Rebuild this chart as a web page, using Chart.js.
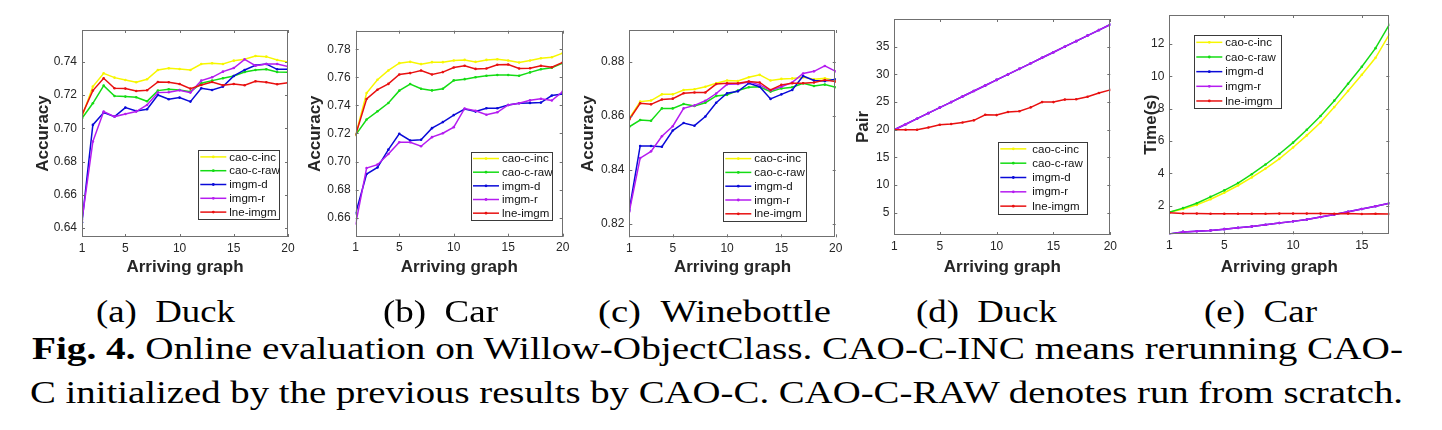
<!DOCTYPE html>
<html lang="en">
<head>
<meta charset="UTF-8">
<title>Online evaluation on Willow-ObjectClass</title>
<script src="https://cdn.jsdelivr.net/npm/chart.js@4.4.0/dist/chart.umd.min.js"></script>
<style>
  body { margin: 0; background: #fff; width: 1442px; height: 430px; overflow: hidden; position: relative; }
  .panel { position: absolute; top: 0; height: 285px; }
  .cap { position: absolute; font-family: "Liberation Serif", "Times New Roman", serif; font-size: 32px; line-height: 32px;
         white-space: nowrap; color: #000; transform-origin: 0 0; }
</style>
</head>
<body>

<div class="panel" id="pA"><canvas id="cA"></canvas></div>
<div class="panel" id="pB"><canvas id="cB"></canvas></div>
<div class="panel" id="pC"><canvas id="cC"></canvas></div>
<div class="panel" id="pD"><canvas id="cD"></canvas></div>
<div class="panel" id="pE"><canvas id="cE"></canvas></div>

<div id="captions"></div>

<script>
// x values (arriving graph index)
const arrivals20 = [1, 2, 3, 4, 5, 6, 7, 8, 9, 10, 11, 12, 13, 14, 15, 16, 17, 18, 19, 20];
const arrivals17 = [1, 2, 3, 4, 5, 6, 7, 8, 9, 10, 11, 12, 13, 14, 15, 16, 17];

const methods = ["cao-c-inc", "cao-c-raw", "imgm-d", "imgm-r", "lne-imgm"];
const methodColors = ["#f7f700", "#14dc14", "#0a0ad8", "#b51cf0", "#e81010"];

// (a) Duck - accuracy
const duckInc = [0.707, 0.725, 0.733, 0.7304, 0.729, 0.7276, 0.7294, 0.735, 0.736, 0.7356, 0.735, 0.7386, 0.739, 0.7386, 0.7406, 0.7414, 0.7434, 0.743, 0.741, 0.7398];
const duckRaw = [0.706, 0.715, 0.7256, 0.7194, 0.719, 0.7186, 0.7162, 0.7226, 0.7234, 0.723, 0.722, 0.727, 0.7286, 0.730, 0.7314, 0.7338, 0.735, 0.7354, 0.7338, 0.7336];
const duckImgmD = [0.6436, 0.702, 0.7094, 0.707, 0.7124, 0.7104, 0.7114, 0.720, 0.7174, 0.7184, 0.716, 0.724, 0.723, 0.725, 0.7314, 0.735, 0.7378, 0.7386, 0.7354, 0.7354];
const duckImgmR = [0.645, 0.692, 0.710, 0.707, 0.7086, 0.710, 0.714, 0.7214, 0.7216, 0.7228, 0.7214, 0.7286, 0.7306, 0.734, 0.7362, 0.7414, 0.7376, 0.7386, 0.7386, 0.737];
const duckLne = [0.708, 0.7226, 0.730, 0.724, 0.7238, 0.7224, 0.7228, 0.7278, 0.7276, 0.7266, 0.7238, 0.726, 0.7278, 0.7258, 0.7266, 0.7258, 0.7282, 0.7276, 0.7264, 0.7274];

// (b) Car - accuracy
const carInc = [0.719, 0.7488, 0.7583, 0.7649, 0.7701, 0.771, 0.7694, 0.7708, 0.7708, 0.772, 0.7724, 0.771, 0.7724, 0.7729, 0.772, 0.7706, 0.772, 0.7736, 0.7743, 0.7772];
const carRaw = [0.719, 0.730, 0.7358, 0.7417, 0.7505, 0.7552, 0.7519, 0.7507, 0.7519, 0.7578, 0.7587, 0.760, 0.7611, 0.7616, 0.7616, 0.7611, 0.7635, 0.7658, 0.7668, 0.7701];
const carImgmD = [0.6631, 0.6911, 0.6958, 0.7085, 0.7198, 0.715, 0.7155, 0.7238, 0.7281, 0.7331, 0.7374, 0.7356, 0.738, 0.738, 0.7403, 0.7415, 0.7418, 0.742, 0.747, 0.7482];
const carImgmR = [0.6557, 0.6954, 0.6978, 0.7054, 0.7138, 0.7138, 0.7109, 0.7174, 0.7202, 0.7245, 0.7378, 0.7362, 0.7333, 0.7351, 0.7403, 0.7415, 0.7436, 0.7447, 0.7435, 0.7498];
const carLne = [0.719, 0.7446, 0.7512, 0.7553, 0.762, 0.763, 0.7649, 0.762, 0.7637, 0.767, 0.7682, 0.766, 0.7663, 0.7689, 0.7691, 0.7663, 0.7665, 0.7682, 0.7672, 0.7706];

// (c) Winebottle - accuracy
const wineInc = [0.859, 0.8652, 0.8656, 0.8679, 0.8679, 0.8695, 0.8698, 0.8707, 0.872, 0.873, 0.8728, 0.8742, 0.8751, 0.873, 0.8736, 0.8738, 0.8742, 0.8735, 0.8738, 0.873];
const wineRaw = [0.8559, 0.8584, 0.8581, 0.8627, 0.8627, 0.8643, 0.8636, 0.8648, 0.8673, 0.8677, 0.8693, 0.8705, 0.8707, 0.8689, 0.8701, 0.8705, 0.872, 0.871, 0.8715, 0.8705];
const wineImgmD = [0.8251, 0.8488, 0.8488, 0.8485, 0.8545, 0.8573, 0.8563, 0.8597, 0.8648, 0.8683, 0.869, 0.872, 0.8707, 0.8662, 0.8679, 0.8695, 0.8747, 0.873, 0.8728, 0.8735];
const wineImgmR = [0.8245, 0.8443, 0.8468, 0.8524, 0.8561, 0.8627, 0.8638, 0.8655, 0.8682, 0.8716, 0.8717, 0.8725, 0.8714, 0.8693, 0.8707, 0.8723, 0.8756, 0.8764, 0.8784, 0.8764];
const wineLne = [0.8586, 0.8646, 0.8642, 0.866, 0.8663, 0.8683, 0.8686, 0.8686, 0.8717, 0.872, 0.872, 0.8726, 0.8723, 0.8695, 0.8714, 0.872, 0.872, 0.8723, 0.8732, 0.8726];

// (d) Duck - pairs (cao-c lines are not visible in the figure)
const pairInc = [];
const pairRaw = [];
const pairImgmD = [20, 21, 22, 23, 24, 25, 26, 27, 28, 29, 30, 31, 32, 33, 34, 35, 36, 37, 38, 39];
const pairImgmR = [20, 21, 22, 23, 24, 25, 26, 27, 28, 29, 30, 31, 32, 33, 34, 35, 36, 37, 38, 39];
const pairLne = [20, 20, 20, 20.4, 20.9, 21.05, 21.3, 21.7, 22.7, 22.65, 23.2, 23.35, 24.05, 25.0, 25.0, 25.45, 25.5, 25.95, 26.65, 27.2];

// (e) Car - time(s)
const timeInc = [1.6, 1.8, 2.05, 2.4, 2.8, 3.25, 3.75, 4.3, 4.9, 5.6, 6.35, 7.15, 8.1, 9.1, 10.1, 11.15, 12.6];
const timeRaw = [1.6, 1.85, 2.15, 2.55, 2.95, 3.4, 3.95, 4.55, 5.2, 5.9, 6.7, 7.55, 8.5, 9.55, 10.6, 11.75, 13.2];
const timeImgmD = [0.25, 0.38, 0.42, 0.47, 0.55, 0.63, 0.72, 0.82, 0.93, 1.03, 1.15, 1.3, 1.45, 1.62, 1.8, 1.97, 2.15];
const timeImgmR = [0.25, 0.38, 0.42, 0.47, 0.55, 0.63, 0.72, 0.82, 0.93, 1.03, 1.15, 1.3, 1.45, 1.62, 1.8, 1.97, 2.15];
const timeLne = [1.57, 1.52, 1.51, 1.5, 1.5, 1.5, 1.5, 1.5, 1.51, 1.51, 1.51, 1.51, 1.5, 1.51, 1.49, 1.5, 1.49];

// tick labels
const xTicks20 = [1, 5, 10, 15, 20];
const xTicks17 = [1, 5, 10, 15];
const yTicksDuck = [0.64, 0.66, 0.68, 0.70, 0.72, 0.74];
const yTicksCar = [0.66, 0.68, 0.70, 0.72, 0.74, 0.76, 0.78];
const yTicksWine = [0.82, 0.84, 0.86, 0.88];
const yTicksPair = [5, 10, 15, 20, 25, 30, 35];
const yTicksTime = [2, 4, 6, 8, 10, 12];

const PANEL_H = 285;
const TEXT = "#262626";
const SANS = '"Liberation Sans", Arial, sans-serif';

// box + inward ticks like a matlab axes, plus the legend inside the plot
const matlabBox = {
    id: "matlabBox",
    afterDraw(chart, args, opts) {
        const ctx = chart.ctx;
        const a = chart.chartArea;
        const sx = chart.scales.x, sy = chart.scales.y;
        ctx.save();
        ctx.strokeStyle = "#707070";
        ctx.lineWidth = 1;
        ctx.strokeRect(Math.round(a.left) + 0.5, Math.round(a.top) + 0.5,
                       Math.round(a.width) - 1, Math.round(a.height) - 1);
        ctx.beginPath();
        sx.ticks.forEach(t => {
            const px = Math.round(sx.getPixelForValue(t.value)) + 0.5;
            ctx.moveTo(px, a.bottom); ctx.lineTo(px, a.bottom - 3);
            ctx.moveTo(px, a.top); ctx.lineTo(px, a.top + 3);
        });
        sy.ticks.forEach(t => {
            const py = Math.round(sy.getPixelForValue(t.value)) + 0.5;
            ctx.moveTo(a.left, py); ctx.lineTo(a.left + 3, py);
            ctx.moveTo(a.right, py); ctx.lineTo(a.right - 3, py);
        });
        ctx.stroke();

        // legend
        const lg = opts.legend;
        const x = lg.x - opts.x0, y = lg.y;
        ctx.fillStyle = "#fff";
        ctx.fillRect(x, y, lg.w, lg.h);
        ctx.strokeStyle = "#3a3a3a";
        ctx.lineWidth = 1;
        ctx.strokeRect(Math.round(x) + 0.5, Math.round(y) + 0.5, Math.round(lg.w), Math.round(lg.h));
        ctx.font = "11.5px " + SANS;
        ctx.textBaseline = "middle";
        chart.data.datasets.forEach((ds, i) => {
            const cy = y + lg.h * (i + 0.5) / chart.data.datasets.length;
            ctx.strokeStyle = ds.borderColor;
            ctx.lineWidth = 1.5;
            ctx.beginPath();
            ctx.moveTo(x + 2, cy); ctx.lineTo(x + 28, cy);
            ctx.stroke();
            ctx.fillStyle = ds.borderColor;
            ctx.beginPath();
            ctx.arc(x + 15, cy, 1.4, 0, Math.PI * 2);
            ctx.fill();
            ctx.fillStyle = "#111";
            ctx.fillText(ds.label, x + (lg.tx || 31), cy + 0.5);
        });
        ctx.restore();
    }
};

function makePanel(p) {
    const holder = document.getElementById(p.holder);
    holder.style.left = p.x0 + "px";
    holder.style.width = p.w + "px";
    const [aL, aT, aR, aB] = p.area;
    const titleSize = 17, lh = titleSize * 1.2;
    const titleFont = { family: SANS, size: titleSize, weight: "bold" };
    const tickFont = { family: SANS, size: 12 };

    const datasets = methods.map((name, i) => ({
        label: name,
        data: p.series[i].map((v, k) => ({ x: p.xs[k], y: v })),
        borderColor: methodColors[i],
        backgroundColor: methodColors[i],
        pointBackgroundColor: methodColors[i],
        borderWidth: 1.5,
        pointRadius: 1.3,
        pointBorderWidth: 0,
        tension: 0,
        order: methods.length - 1 - i
    }));

    return new Chart(document.getElementById(p.canvas), {
        type: "line",
        data: { datasets: datasets },
        options: {
            responsive: true,
            maintainAspectRatio: false,
            animation: false,
            events: [],
            layout: { padding: { left: 0, top: aT, right: p.x0 + p.w - aR, bottom: 0 } },
            plugins: {
                legend: { display: false },
                tooltip: { enabled: false },
                matlabBox: { x0: p.x0, legend: p.legend }
            },
            scales: {
                x: {
                    type: "linear",
                    min: p.xs[0],
                    max: p.xs[p.xs.length - 1],
                    afterBuildTicks: s => { s.ticks = p.xTicks.map(v => ({ value: v })); },
                    afterFit: s => { s.height = PANEL_H - aB; },
                    grid: { display: false, drawTicks: false },
                    border: { display: false },
                    ticks: { font: tickFont, color: TEXT, padding: 4, maxRotation: 0, autoSkip: false },
                    title: { display: true, text: "Arriving graph", font: titleFont, color: TEXT,
                             padding: { top: 0, bottom: PANEL_H - p.xTitleY - lh / 2 } }
                },
                y: {
                    type: "linear",
                    min: p.yRange[0],
                    max: p.yRange[1],
                    afterBuildTicks: s => { s.ticks = p.yTicks.map(v => ({ value: v })); },
                    afterFit: s => { s.width = aL - p.x0; },
                    grid: { display: false, drawTicks: false },
                    border: { display: false },
                    ticks: { font: tickFont, color: TEXT, padding: 5, autoSkip: false,
                             callback: v => v.toFixed(p.decimals) },
                    title: { display: true, text: p.yTitle, font: titleFont, color: TEXT,
                             padding: { top: p.yTitleX - p.x0 - lh / 2, bottom: 0 } }
                }
            }
        },
        plugins: [matlabBox]
    });
}

const panels = [
    { holder: "pA", canvas: "cA", x0: 0, w: 300, area: [82, 30, 288, 237], yTitle: "Accuracy", yTitleX: 43, xTitleY: 267,
      xs: arrivals20, xTicks: xTicks20, yTicks: yTicksDuck, yRange: [0.6347, 0.759], decimals: 2,
      series: [duckInc, duckRaw, duckImgmD, duckImgmR, duckLne],
      legend: { x: 198.3, y: 150, w: 81, h: 69 } },
    { holder: "pB", canvas: "cB", x0: 290, w: 285, area: [355.7, 30.7, 562.7, 236.7], yTitle: "Accuracy", yTitleX: 315, xTitleY: 267,
      xs: arrivals20, xTicks: xTicks20, yTicks: yTicksCar, yRange: [0.6465, 0.7932], decimals: 2,
      series: [carInc, carRaw, carImgmD, carImgmR, carLne],
      legend: { x: 471, y: 151.7, w: 81, h: 68.3 } },
    { holder: "pC", canvas: "cC", x0: 570, w: 278, area: [629.3, 30, 835.7, 237.3], yTitle: "Accuracy", yTitleX: 588, xTitleY: 267,
      xs: arrivals20, xTicks: xTicks20, yTicks: yTicksWine, yRange: [0.815, 0.8917], decimals: 2,
      series: [wineInc, wineRaw, wineImgmD, wineImgmR, wineLne],
      legend: { x: 723.3, y: 151.7, w: 82.7, h: 69 } },
    { holder: "pD", canvas: "cD", x0: 848, w: 274, area: [894.3, 19, 1110.3, 235], yTitle: "Pair", yTitleX: 863, xTitleY: 267,
      xs: arrivals20, xTicks: xTicks20, yTicks: yTicksPair, yRange: [1, 40], decimals: 0,
      series: [pairInc, pairRaw, pairImgmD, pairImgmR, pairLne],
      legend: { x: 998.3, y: 141.7, w: 89, h: 71.6, tx: 34 } },
    { holder: "pE", canvas: "cE", x0: 1130, w: 271, area: [1169.3, 15, 1389.3, 234.3], yTitle: "Time(s)", yTitleX: 1151, xTitleY: 267,
      xs: arrivals17, xTicks: xTicks17, yTicks: yTicksTime, yRange: [0.23, 13.8], decimals: 0,
      series: [timeInc, timeRaw, timeImgmD, timeImgmR, timeLne],
      legend: { x: 1194.3, y: 35, w: 87.4, h: 73.3 } }
];

panels.forEach(makePanel);

// caption text, stretched to the widths it has in the figure
const captionLines = [
    { html: "(a)&nbsp;&nbsp;Duck", x: 96, top: 295, w: 139 },
    { html: "(b)&nbsp;&nbsp;Car", x: 383, top: 295, w: 115 },
    { html: "(c)&nbsp;&nbsp;Winebottle", x: 597.6, top: 295, w: 233 },
    { html: "(d)&nbsp;&nbsp;Duck", x: 916, top: 295, w: 141 },
    { html: "(e)&nbsp;&nbsp;Car", x: 1204, top: 295, w: 113 },
    { html: "<b>Fig. 4.</b> Online evaluation on Willow-ObjectClass. CAO-C-INC means rerunning CAO-", x: 31.7, top: 331.5, w: 1371 },
    { html: "C initialized by the previous results by CAO-C. CAO-C-RAW denotes run from scratch.", x: 30, top: 375.5, w: 1373 }
];

const capBox = document.getElementById("captions");
captionLines.forEach(c => {
    const el = document.createElement("div");
    el.className = "cap";
    el.innerHTML = c.html;
    el.style.left = c.x + "px";
    el.style.top = c.top + "px";
    capBox.appendChild(el);
    const natural = el.getBoundingClientRect().width;
    el.style.transform = "scaleX(" + (c.w / natural) + ")";
});
</script>
</body>
</html>
